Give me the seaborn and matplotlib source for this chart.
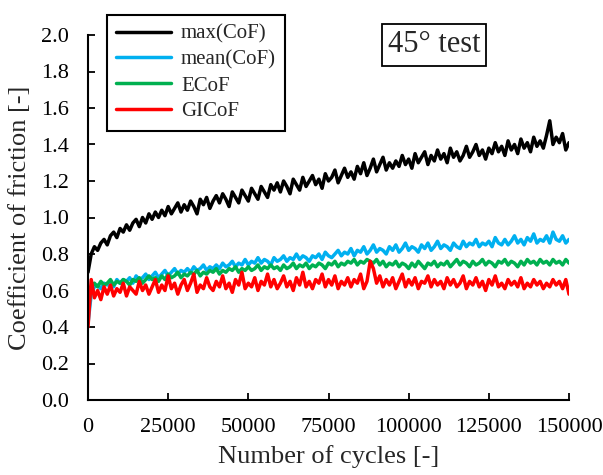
import matplotlib
matplotlib.use('Agg')
import matplotlib.pyplot as plt
import numpy as np
import pandas as pd
import seaborn as sns

# DATA (one sample every 1000 cycles)

cycles = np.arange(0, 150001, 1000)

max_cof = [
    0.70, 0.80, 0.84, 0.82, 0.86, 0.88, 0.85, 0.90, 0.92, 0.89,
    0.94, 0.92, 0.96, 0.93, 0.97, 0.99, 0.95, 1.00, 0.97, 1.02,
    0.99, 1.03, 1.00, 1.04, 1.01, 1.06, 1.02, 1.05, 1.08, 1.03,
    1.07, 1.04, 1.09, 1.06, 1.02, 1.10, 1.07, 1.11, 1.05, 1.09,
    1.12, 1.08, 1.13, 1.10, 1.06, 1.14, 1.11, 1.08, 1.15, 1.12,
    1.09, 1.16, 1.13, 1.10, 1.17, 1.14, 1.11, 1.18, 1.15, 1.19,
    1.14, 1.20, 1.17, 1.13, 1.21, 1.18, 1.15, 1.22, 1.17, 1.20,
    1.23, 1.18, 1.21, 1.16, 1.24, 1.20, 1.22, 1.26, 1.19, 1.23,
    1.27, 1.22, 1.25, 1.21, 1.28, 1.24, 1.30, 1.23, 1.27, 1.32,
    1.25, 1.29, 1.33, 1.26, 1.30, 1.27, 1.31, 1.28, 1.34, 1.29,
    1.32, 1.27, 1.35, 1.30, 1.33, 1.36, 1.29, 1.34, 1.31, 1.37,
    1.32, 1.35, 1.30, 1.38, 1.33, 1.36, 1.31, 1.34, 1.39, 1.33,
    1.36, 1.40, 1.34, 1.37, 1.32, 1.38, 1.35, 1.41, 1.36, 1.39,
    1.34, 1.42, 1.37, 1.40, 1.35, 1.43, 1.38, 1.41, 1.36, 1.44,
    1.39, 1.42, 1.38, 1.45, 1.53, 1.40, 1.44, 1.41, 1.46, 1.37,
    1.41,
]

mean_cof = [
    0.42, 0.58, 0.62, 0.63, 0.61, 0.64, 0.63, 0.65, 0.62, 0.66,
    0.64, 0.66, 0.65, 0.67, 0.64, 0.68, 0.66, 0.67, 0.69, 0.66,
    0.68, 0.70, 0.67, 0.69, 0.71, 0.68, 0.70, 0.72, 0.69, 0.71,
    0.70, 0.72, 0.70, 0.73, 0.71, 0.72, 0.74, 0.71, 0.73, 0.72,
    0.74, 0.72, 0.75, 0.73, 0.74, 0.76, 0.73, 0.75, 0.74, 0.77,
    0.74, 0.76, 0.75, 0.78, 0.75, 0.77, 0.76, 0.74, 0.78, 0.76,
    0.77, 0.79, 0.76, 0.78, 0.77, 0.80, 0.77, 0.79, 0.78, 0.76,
    0.79, 0.78, 0.80, 0.77, 0.81, 0.79, 0.78, 0.80, 0.82, 0.79,
    0.81, 0.80, 0.83, 0.79, 0.82, 0.81, 0.84, 0.80, 0.82, 0.85,
    0.81, 0.83, 0.82, 0.80, 0.84, 0.82, 0.85, 0.81, 0.83, 0.86,
    0.82, 0.84, 0.83, 0.81, 0.85, 0.83, 0.86, 0.82, 0.84, 0.87,
    0.83, 0.85, 0.84, 0.82, 0.86, 0.84, 0.83, 0.87, 0.84, 0.86,
    0.85, 0.88, 0.84, 0.86, 0.85, 0.87, 0.84, 0.89, 0.86, 0.85,
    0.88, 0.85, 0.87, 0.90, 0.86, 0.88, 0.85, 0.89, 0.87, 0.91,
    0.86, 0.88, 0.87, 0.90, 0.86, 0.92, 0.88, 0.87, 0.90, 0.86,
    0.88,
]

ecof = [
    0.48, 0.62, 0.64, 0.62, 0.65, 0.63, 0.64, 0.66, 0.63, 0.65,
    0.64, 0.66, 0.65, 0.63, 0.66, 0.65, 0.67, 0.64, 0.66, 0.68,
    0.66, 0.67, 0.65, 0.68, 0.66, 0.69, 0.67, 0.68, 0.70, 0.67,
    0.69, 0.68, 0.70, 0.69, 0.71, 0.68, 0.70, 0.69, 0.71, 0.70,
    0.72, 0.69, 0.71, 0.70, 0.72, 0.71, 0.73, 0.70, 0.72, 0.71,
    0.73, 0.71, 0.72, 0.74, 0.71, 0.73, 0.72, 0.74, 0.72, 0.73,
    0.71, 0.74, 0.72, 0.73, 0.75, 0.72, 0.74, 0.73, 0.75, 0.72,
    0.74, 0.73, 0.75, 0.74, 0.72, 0.75, 0.74, 0.76, 0.73, 0.75,
    0.74, 0.76, 0.75, 0.77, 0.74, 0.76, 0.75, 0.77, 0.76, 0.75,
    0.77, 0.74, 0.76, 0.73, 0.75, 0.74, 0.76, 0.73, 0.75, 0.74,
    0.72, 0.75, 0.73, 0.76, 0.74, 0.72, 0.75, 0.74, 0.76, 0.73,
    0.75, 0.74, 0.76, 0.73, 0.75, 0.77, 0.74, 0.76, 0.75, 0.73,
    0.76, 0.74, 0.75, 0.77, 0.74, 0.76, 0.75, 0.73, 0.76, 0.75,
    0.77, 0.74, 0.76, 0.75, 0.73, 0.76, 0.74, 0.77, 0.75, 0.76,
    0.74, 0.77, 0.75, 0.76, 0.74, 0.77, 0.75, 0.76, 0.74, 0.77,
    0.75,
]

gicof = [
    0.40, 0.66, 0.56, 0.60, 0.55, 0.62, 0.58, 0.63, 0.57, 0.61,
    0.59, 0.64, 0.57, 0.62, 0.60, 0.58, 0.65, 0.60, 0.63, 0.58,
    0.62, 0.66, 0.59, 0.63, 0.60, 0.68, 0.61, 0.64, 0.58, 0.63,
    0.66, 0.60, 0.64, 0.69, 0.59, 0.63, 0.61, 0.67, 0.62, 0.60,
    0.65, 0.62, 0.68, 0.61, 0.64, 0.59, 0.66, 0.63, 0.70, 0.61,
    0.64, 0.62, 0.67, 0.60, 0.65, 0.63, 0.69, 0.62, 0.66, 0.61,
    0.64, 0.68, 0.62, 0.65, 0.60, 0.67, 0.63, 0.70, 0.62, 0.65,
    0.61, 0.66, 0.64, 0.69, 0.62, 0.66, 0.63, 0.68, 0.61, 0.65,
    0.63, 0.67, 0.62, 0.66, 0.64, 0.69, 0.61, 0.65, 0.76, 0.72,
    0.64, 0.68, 0.62, 0.66, 0.63, 0.67, 0.61, 0.65, 0.69, 0.62,
    0.66, 0.63, 0.67, 0.61, 0.65, 0.64, 0.68, 0.62, 0.66, 0.63,
    0.65, 0.61, 0.67, 0.63, 0.66, 0.62, 0.64, 0.68, 0.61, 0.65,
    0.63, 0.67, 0.62, 0.65, 0.60, 0.66, 0.63, 0.68, 0.62, 0.64,
    0.61, 0.66, 0.63, 0.65, 0.62, 0.67, 0.61, 0.64, 0.62, 0.66,
    0.63, 0.65, 0.61, 0.64, 0.62, 0.66, 0.63, 0.65, 0.61, 0.66,
    0.58,
]

series_names = ['max(CoF)', 'mean(CoF)', 'ECoF', 'GICoF']
series_colors = ['#000000', '#00b0f0', '#00b050', '#ff0000']

# long-form table for seaborn
df = pd.DataFrame({
    'Cycles': np.tile(cycles, 4),
    'CoF': max_cof + mean_cof + ecof + gicof,
    'Series': np.repeat(series_names, len(cycles)),
})

# PLOT

sns.set_style('white')
plt.rcParams['font.family'] = ['Liberation Serif', 'DejaVu Serif']

fig = plt.figure(figsize=(6.03, 4.75), dpi=100)
ax = fig.add_axes([88 / 603, 75 / 475, 481 / 603, 365 / 475])

sns.lineplot(data=df, x='Cycles', y='CoF', hue='Series', hue_order=series_names,
             palette=series_colors, linewidth=2.5, ax=ax)

ax.set_xlim(0, 150000)
ax.set_ylim(0, 2.0)
ax.set_xticks(np.arange(0, 150001, 25000))
ax.set_yticks(np.arange(0, 2.01, 0.2))
ax.set_yticklabels([f'{v:.1f}' for v in np.arange(0, 2.01, 0.2)])
ax.set_xticklabels([str(v) for v in range(0, 150001, 25000)])

for side in ['top', 'right']:
    ax.spines[side].set_visible(False)
for side in ['left', 'bottom']:
    ax.spines[side].set_color('black')
    ax.spines[side].set_linewidth(1.5)

ax.tick_params(axis='both', direction='in', length=5, width=1.3, colors='black',
               labelsize=16, left=True, bottom=True)
ax.tick_params(axis='y', pad=14)
ax.tick_params(axis='x', pad=13)

ax.set_xlabel('Number of cycles [-]', fontsize=19, labelpad=6)
ax.set_ylabel('Coefficient of friction [-]', fontsize=19, labelpad=7)

leg = ax.legend(loc='upper left', bbox_to_anchor=(107 / 603, 1 - 15 / 475),
                bbox_transform=fig.transFigure, borderaxespad=0, fontsize=15,
                frameon=True, fancybox=False, framealpha=1, handlelength=2.6,
                labelspacing=0.3, borderpad=0.45, handletextpad=0.5)
leg.get_frame().set_edgecolor('black')
leg.get_frame().set_linewidth(1.5)
for line in leg.get_lines():
    line.set_linewidth(2.5)

fig.text(434 / 603, 1 - 45 / 475, '45° test', fontsize=22, ha='center', va='center',
         bbox=dict(boxstyle='square,pad=0.2', facecolor='white', edgecolor='black', linewidth=1.3))

fig.savefig('out.png', dpi=100)
